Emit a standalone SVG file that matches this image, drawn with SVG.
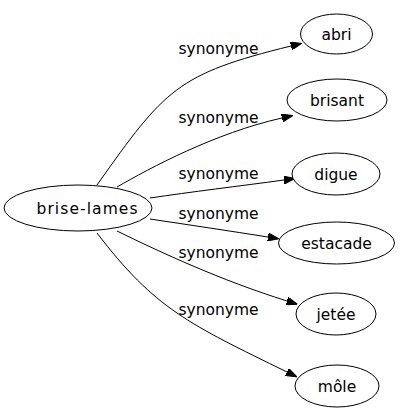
<svg xmlns="http://www.w3.org/2000/svg" width="400" height="419" viewBox="0 0 400 419">
<defs>
<style>
.node ellipse{fill:#fff;stroke:#000;stroke-width:1}
.node text{font-family:"DejaVu Sans",sans-serif;font-size:15.5px;fill:#000;text-anchor:middle}
.edge path{fill:none;stroke:#000;stroke-width:1;marker-end:url(#arrow)}
.edge text{font-family:"DejaVu Sans",sans-serif;font-size:15.5px;fill:#000;text-anchor:middle}
</style>
<marker id="arrow" markerUnits="userSpaceOnUse" markerWidth="11" markerHeight="8" viewBox="0 0 11 8" refX="0" refY="4" orient="auto">
<path d="M0,0 L11,4 L0,8 z" fill="#000" stroke="#000" stroke-width="1"/>
</marker>
</defs>
<rect width="400" height="419" fill="#fff"/>
<g id="edges" class="edge">
<path d="M97,185 C165,89 177,74 291,46"/>
<text x="218.5" y="54">synonyme</text>
<path d="M117,187 C150,168 215,133 282,118"/>
<text x="218.5" y="123">synonyme</text>
<path d="M150,198 C190,192 240,186 284,180"/>
<text x="218.5" y="179">synonyme</text>
<path d="M150,219 C190,225 230,231 268,237"/>
<text x="218.5" y="219">synonyme</text>
<path d="M117,231 C160,252 220,280 287,301"/>
<text x="218.5" y="258">synonyme</text>
<path d="M97,233 C155,309 189,324 287,372"/>
<text x="218.5" y="315">synonyme</text>
</g>
<g id="brise-lames" class="node"><ellipse cx="78" cy="208" rx="74" ry="23"/><text x="87" y="214" textLength="101" lengthAdjust="spacing">brise-lames</text></g>
<g id="abri" class="node"><ellipse cx="336.5" cy="34" rx="36" ry="20"/><text x="336.5" y="39.5">abri</text></g>
<g id="brisant" class="node"><ellipse cx="337" cy="100" rx="50" ry="21"/><text x="337" y="105.5">brisant</text></g>
<g id="digue" class="node"><ellipse cx="336" cy="174" rx="44" ry="21"/><text x="336" y="179.5">digue</text></g>
<g id="estacade" class="node"><ellipse cx="336.5" cy="243" rx="58" ry="21"/><text x="336.5" y="248.5">estacade</text></g>
<g id="jetee" class="node"><ellipse cx="336" cy="314" rx="40" ry="21"/><text x="336" y="319.5">jetée</text></g>
<g id="mole" class="node"><ellipse cx="337" cy="386" rx="42" ry="21"/><text x="337" y="391.5">môle</text></g>
</svg>
